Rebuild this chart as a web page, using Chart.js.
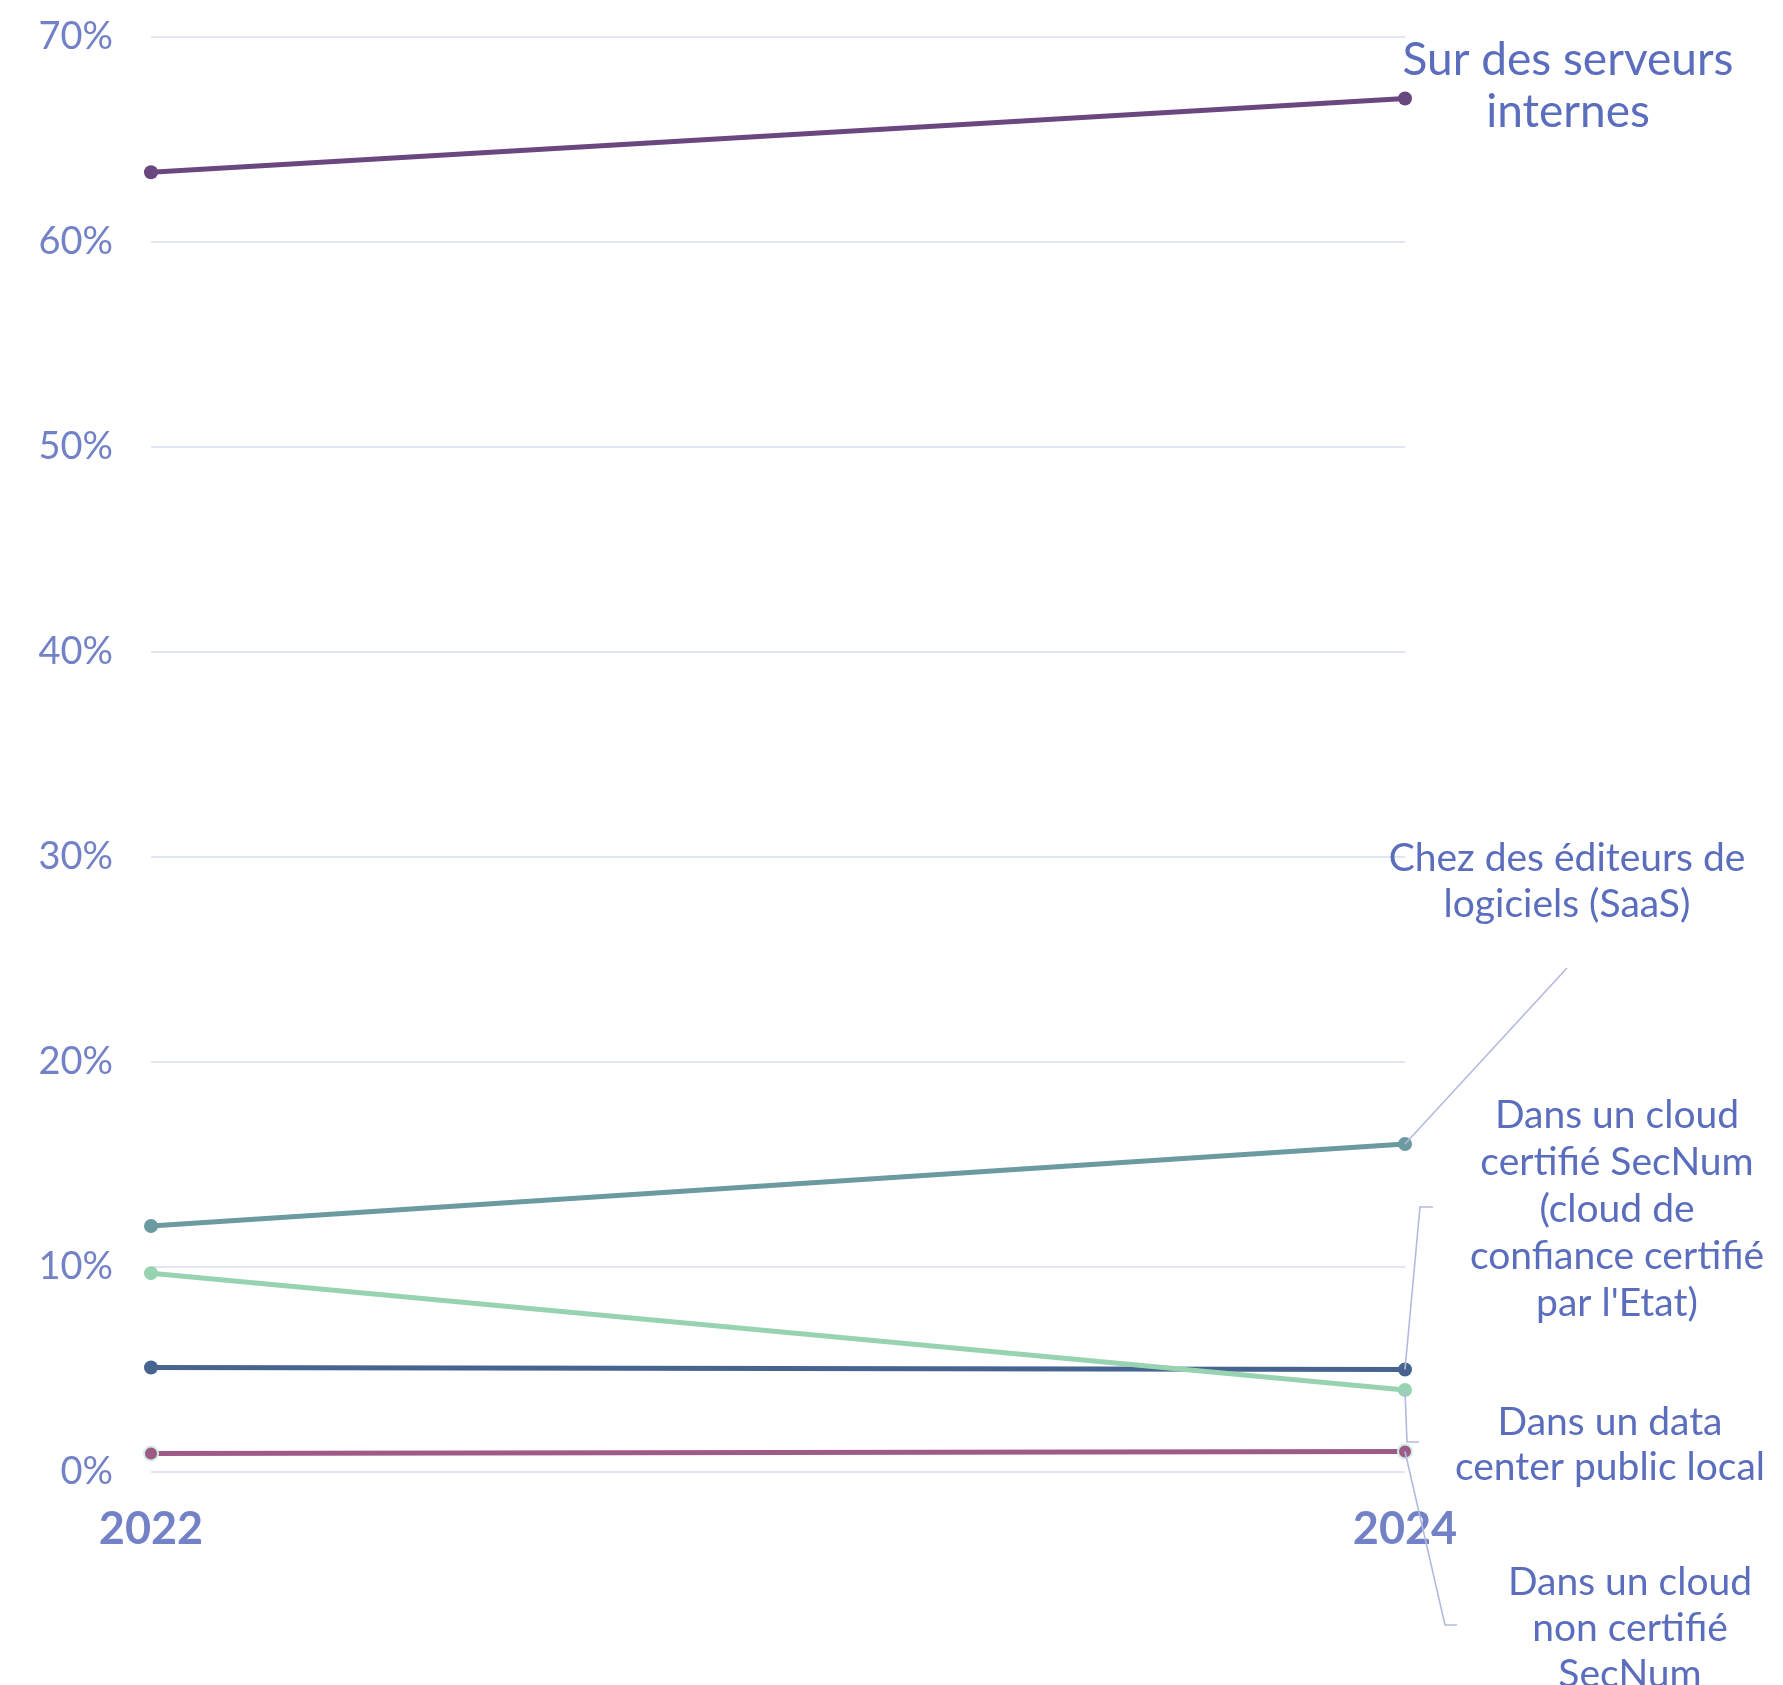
<!DOCTYPE html>
<html>
<head>
<meta charset="utf-8">
<script src="https://cdn.jsdelivr.net/npm/chart.js@4/dist/chart.umd.min.js"></script>
<style>
  html, body { margin: 0; padding: 0; background: #fff; }
  #wrap { width: 1783px; height: 1685px; }
</style>
</head>
<body>
<div id="wrap"><canvas id="lineChart"></canvas></div>
<script>
// data
var years = ["2022", "2024"];
var yTicks = [0, 10, 20, 30, 40, 50, 60, 70];
var serveursInternes = [63.4, 67.0];
var editeursSaas = [12.0, 16.0];
var dataCenterPublic = [9.7, 4.0];
var cloudSecNum = [5.1, 5.0];
var cloudNonCertifie = [0.9, 1.0];

var seriesNames = [
  ["Sur des serveurs", "internes"],
  ["Chez des éditeurs de", "logiciels (SaaS)"],
  ["Dans un data", "center public local"],
  ["Dans un cloud", "certifié SecNum", "(cloud de", "confiance certifié", "par l'Etat)"],
  ["Dans un cloud", "non certifié", "SecNum"]
];

var FONT = "Lato, 'Open Sans', sans-serif";
var axisColor = "#7382c6";
var labelColor = "#5b6dbd";
var leaderColor = "#b3badf";

// where each end label sits, and how its leader line runs (x, y pixels)
var labelLayout = [
  { x: 1568, y: 60, size: 46, lh: 52, leader: null },
  { x: 1567, y: 858, size: 39, lh: 46, leader: [[1567, 968]] },
  { x: 1610, y: 1422, size: 39, lh: 45, leader: [[1407, 1442], [1419, 1442]] },
  { x: 1617, y: 1115, size: 39, lh: 47, leader: [[1420, 1207], [1433, 1207]] },
  { x: 1630, y: 1582, size: 39, lh: 46, leader: [[1445, 1625], [1457, 1625]] }
];

var endLabels = {
  id: 'endLabels',
  afterDatasetsDraw: function(chart) {
    var ctx = chart.ctx;
    ctx.save();
    chart.data.datasets.forEach(function(ds, i) {
      var meta = chart.getDatasetMeta(i);
      var pt = meta.data[meta.data.length - 1];
      var lay = labelLayout[i];
      if (lay.leader) {
        ctx.beginPath();
        ctx.strokeStyle = leaderColor;
        ctx.lineWidth = 1.6;
        ctx.moveTo(pt.x, pt.y);
        lay.leader.forEach(function(p) { ctx.lineTo(p[0], p[1]); });
        ctx.stroke();
      }
      ctx.fillStyle = labelColor;
      ctx.font = lay.size + "px " + FONT;
      ctx.textAlign = "center";
      ctx.textBaseline = "middle";
      seriesNames[i].forEach(function(line, k) {
        ctx.fillText(line, lay.x, lay.y + k * lay.lh);
      });
    });
    ctx.restore();
  }
};

function makeSet(data, color, border) {
  return {
    data: data,
    borderColor: color,
    backgroundColor: color,
    pointBackgroundColor: color,
    pointBorderColor: border || color,
    pointBorderWidth: border ? 2 : 0,
    pointRadius: 7,
    borderWidth: 5,
    tension: 0
  };
}

var ctx = document.getElementById("lineChart").getContext('2d');
new Chart(ctx, {
  type: 'line',
  data: {
    labels: years,
    datasets: [
      makeSet(serveursInternes, "#6a477f"),
      makeSet(editeursSaas, "#6b9aa1"),
      makeSet(dataCenterPublic, "#98d3b1"),
      makeSet(cloudSecNum, "#46648f"),
      makeSet(cloudNonCertifie, "#9e5a86", "#d3eee0")
    ]
  },
  options: {
    responsive: true,
    maintainAspectRatio: false,
    animation: false,
    layout: { padding: { top: 37, right: 378, left: 0, bottom: 0 } },
    plugins: {
      legend: { display: false },
      tooltip: { enabled: false }
    },
    scales: {
      x: {
        offset: false,
        grid: { display: false, drawTicks: false },
        border: { display: false },
        ticks: {
          color: axisColor,
          font: { family: FONT, size: 45, weight: 'bold' },
          padding: 30,
          maxRotation: 0
        },
        afterFit: function(s) {
          s.height = 213;
          s.paddingLeft = 0;
          s.paddingRight = 0;
        }
      },
      y: {
        min: 0,
        max: 70,
        afterBuildTicks: function(s) {
          s.ticks = yTicks.map(function(v) { return { value: v }; });
        },
        grid: { color: "#e1e4f3", lineWidth: 2, drawTicks: false },
        border: { display: false },
        ticks: {
          color: axisColor,
          font: { family: FONT, size: 38 },
          padding: 38,
          callback: function(v) { return v + "%"; }
        },
        afterFit: function(s) {
          s.width = 151;
          s.paddingTop = 0;
          s.paddingBottom = 0;
        }
      }
    }
  },
  plugins: [endLabels]
});
</script>
</body>
</html>
